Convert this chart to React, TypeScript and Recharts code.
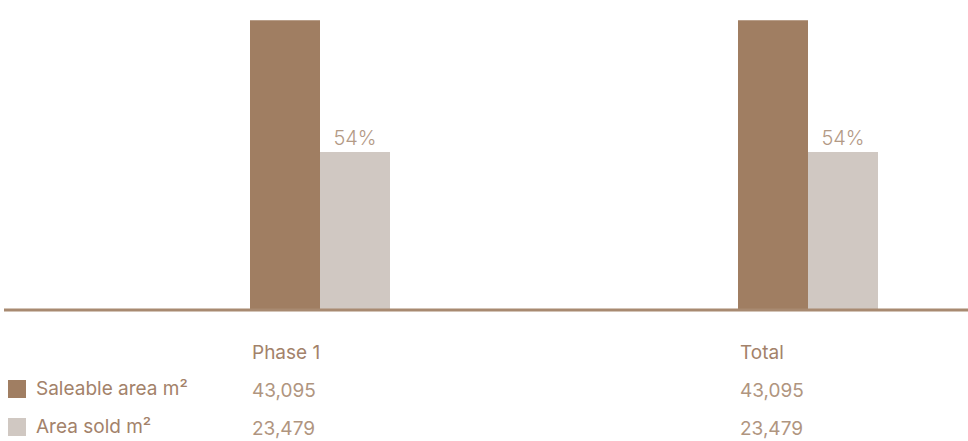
import React from "react";
import { BarChart, Bar, XAxis, YAxis, LabelList } from "recharts";

const categories = ["Phase 1", "Total"];
const saleableArea = [43095, 43095];
const areaSold = [23479, 23479];
const soldPctLabels = ["54%", "54%"];
const seriesNames = ["Saleable area m²", "Area sold m²"];
const seriesColors = ["#A07E62", "#D0C8C2"];

const data = categories.map((name, i) => ({
  name,
  saleable: saleableArea[i],
  sold: areaSold[i],
  pct: soldPctLabels[i],
}));

const FONT = "Inter, 'Noto Sans', sans-serif";
const fmt = (v: number) => v.toLocaleString("en-US");

const TableTick = (props: any) => {
  const { x, y, payload } = props;
  const i = categories.indexOf(payload.value);
  const left = x - 68;
  return (
    <g fontFamily={FONT} fontSize={19}>
      <text x={left} y={y + 42} dominantBaseline="central" fill="#A3826A">
        {payload.value}
      </text>
      <text x={left} y={y + 80} dominantBaseline="central" fill="#B0957F">
        {fmt(saleableArea[i])}
      </text>
      <text x={left} y={y + 118} dominantBaseline="central" fill="#B0957F">
        {fmt(areaSold[i])}
      </text>
    </g>
  );
};

export default function App() {
  return (
    <div
      style={{
        position: "absolute",
        left: 4,
        top: 0,
        width: 964,
        height: 441,
        overflow: "hidden",
        background: "#fff",
      }}
    >
      <BarChart
        width={1048}
        height={441}
        data={data}
        margin={{ top: 8, right: 0, bottom: 11, left: 0 }}
        barGap={0}
      >
        <YAxis hide domain={[0, 44900]} />
        <XAxis
          dataKey="name"
          height={120}
          padding={{ left: 72, right: 0 }}
          axisLine={{ stroke: "#A88A71", strokeWidth: 3 }}
          tickLine={false}
          tickSize={0}
          tickMargin={0}
          tick={<TableTick />}
          interval={0}
        />
        <Bar
          dataKey="saleable"
          name={seriesNames[0]}
          fill={seriesColors[0]}
          barSize={70}
          isAnimationActive={false}
        />
        <Bar
          dataKey="sold"
          name={seriesNames[1]}
          fill={seriesColors[1]}
          barSize={70}
          isAnimationActive={false}
        >
          <LabelList
            dataKey="pct"
            position="top"
            offset={7}
            fill="#B39A86"
            fontSize={20}
            fontFamily={FONT}
            fontWeight={300}
          />
        </Bar>
      </BarChart>
      <div
        style={{
          position: "absolute",
          left: 4,
          top: 370,
          fontFamily: FONT,
          fontSize: 19,
          color: "#A3826A",
        }}
      >
        {seriesNames.map((n, i) => (
          <div
            key={n}
            style={{ display: "flex", alignItems: "center", height: 38, lineHeight: "38px" }}
          >
            <span
              style={{
                display: "inline-block",
                width: 18,
                height: 18,
                background: seriesColors[i],
                marginRight: 10,
              }}
            />
            <span>{n}</span>
          </div>
        ))}
      </div>
    </div>
  );
}
